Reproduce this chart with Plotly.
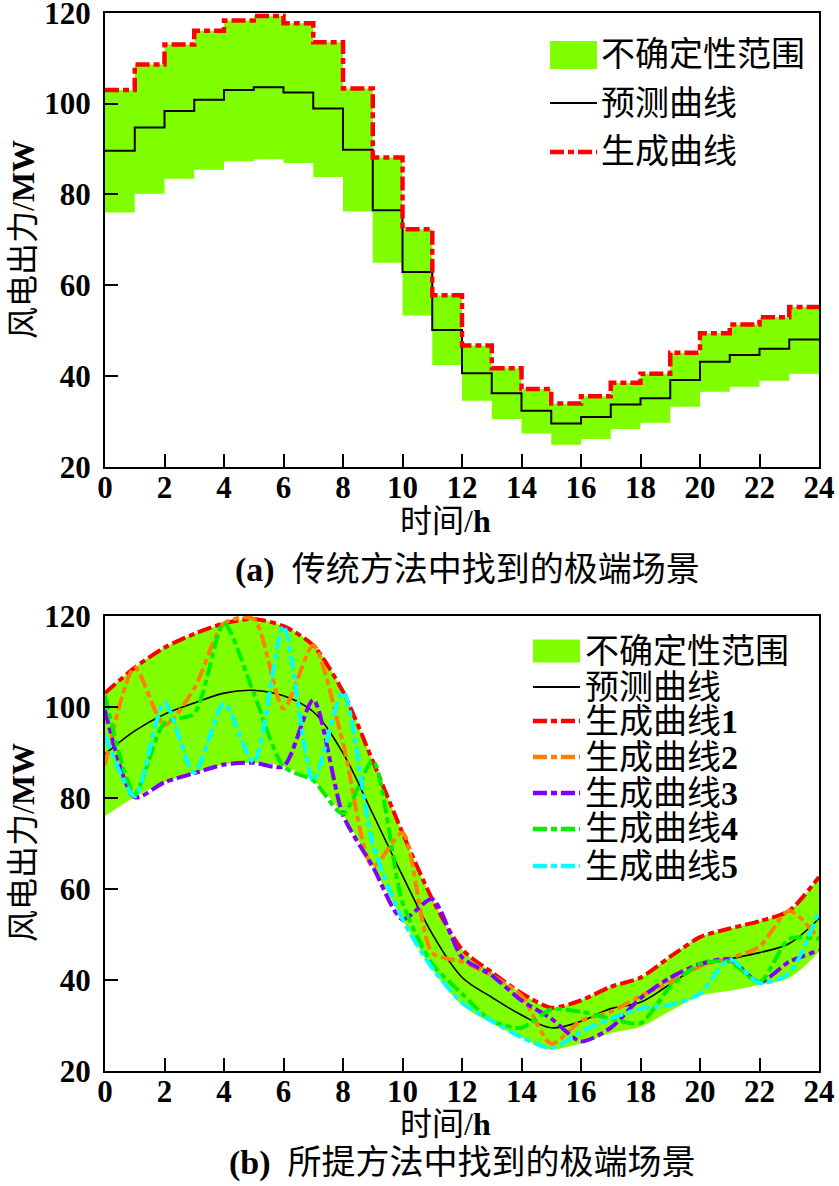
import plotly.graph_objects as go

W, H = 839, 1186

# ---------------- data ----------------
hours = list(range(0, 25))
step_hours = list(range(0, 24))

# (a) hourly step values (value for interval [h, h+1))
upper_a = [103.0, 108.6, 113.0, 116.0, 118.3, 119.3, 117.7, 113.5, 103.3, 88.1, 72.3, 57.75,
           46.7, 41.7, 37.1, 33.9, 35.5, 38.5, 40.5, 45.1, 49.4, 51.3, 52.9, 55.2]
forecast_a = [89.6, 94.7, 98.35, 100.8, 103.0, 103.6, 102.4, 98.9, 89.8, 76.5, 62.9, 50.1,
              40.6, 36.2, 32.3, 29.5, 30.95, 33.7, 35.1, 39.1, 43.1, 44.6, 46.0, 48.0]
lower_a = [76.0, 80.1, 83.4, 85.4, 87.3, 87.7, 86.9, 83.8, 76.2, 64.9, 53.3, 42.4,
           34.5, 30.5, 27.3, 24.85, 26.1, 28.3, 29.7, 33.2, 36.5, 37.6, 38.95, 40.5]

# (b) hourly points 0..24
upper_b = [103.0, 108.6, 113.0, 116.0, 118.3, 119.3, 117.7, 113.5, 103.3, 88.1, 72.3, 57.75,
           46.7, 41.7, 37.1, 33.9, 35.5, 38.5, 40.5, 45.1, 49.4, 51.3, 52.9, 55.2, 62.6]
forecast_b = [89.6, 94.7, 98.35, 100.8, 103.0, 103.6, 102.4, 98.9, 89.8, 76.5, 62.9, 50.1,
              40.6, 36.2, 32.3, 29.5, 30.95, 33.7, 35.1, 39.1, 43.1, 44.6, 46.0, 48.0, 53.5]
lower_b = [76.0, 80.1, 83.4, 85.4, 87.3, 87.7, 86.9, 83.8, 76.2, 64.9, 53.3, 42.4,
           34.5, 30.5, 27.3, 24.85, 26.1, 28.3, 29.7, 33.2, 36.5, 37.6, 38.95, 40.5, 46.2]
curve1 = upper_b
curve2 = [87.2, 108.6, 96.0, 104.0, 118.3, 119.3, 99.6, 113.5, 92.0, 64.9, 72.3, 46.0,
          44.0, 41.0, 36.5, 26.0, 31.0, 33.0, 36.5, 39.5, 43.0, 44.8, 47.3, 55.2, 49.0]
curve3 = [99.3, 80.1, 83.4, 85.4, 87.3, 87.7, 86.9, 101.5, 76.2, 64.9, 53.3, 57.75,
          45.0, 41.0, 35.5, 31.5, 26.5, 29.5, 36.0, 40.5, 43.5, 44.5, 39.5, 44.0, 46.5]
curve4 = [102.5, 81.0, 96.5, 98.5, 118.3, 103.0, 86.9, 83.8, 76.5, 88.1, 57.0, 43.5,
          37.0, 31.0, 29.5, 33.5, 33.0, 31.5, 30.5, 38.5, 43.5, 44.0, 39.5, 49.0, 49.0]
curve5 = [93.7, 80.3, 101.0, 85.5, 100.7, 87.8, 117.7, 83.8, 103.3, 70.0, 53.3, 42.6,
          35.0, 31.0, 27.4, 25.0, 28.6, 31.5, 33.7, 34.5, 37.0, 44.5, 39.3, 41.5, 55.3]

x_ticks = list(range(0, 25, 2))
y_ticks = [20, 40, 60, 80, 100, 120]

legend_a = ["不确定性范围", "预测曲线", "生成曲线"]
legend_b = ["不确定性范围", "预测曲线", "生成曲线1", "生成曲线2", "生成曲线3", "生成曲线4", "生成曲线5"]
curve_colors = ["#FF0000", "#FF8000", "#8000FF", "#00F000", "#00FFFF"]
band_color = "#7FFF00"
DASH = "14px,4px,6px,4px"

# ---------------- helpers ----------------
def px(x):
    return x / W

def py(y):
    return 1 - y / H

def step(vals):
    return step_hours + [24], vals + [vals[-1]]

fig = go.Figure()

# (a) traces
xs, ys = step(lower_a)
fig.add_trace(go.Scatter(x=xs, y=ys, mode="lines", line=dict(width=0, shape="hv"),
                         showlegend=False, xaxis="x", yaxis="y", hoverinfo="skip"))
xs, ys = step(upper_a)
fig.add_trace(go.Scatter(x=xs, y=ys, mode="lines", line=dict(width=0, shape="hv"),
                         fill="tonexty", fillcolor=band_color, showlegend=False,
                         xaxis="x", yaxis="y"))
xs, ys = step(forecast_a)
fig.add_trace(go.Scatter(x=xs, y=ys, mode="lines", line=dict(color="black", width=2, shape="hv"),
                         showlegend=False, xaxis="x", yaxis="y"))
xs, ys = step(upper_a)
fig.add_trace(go.Scatter(x=xs, y=ys, mode="lines",
                         line=dict(color="#FF0000", width=4.5, shape="hv", dash=DASH),
                         showlegend=False, xaxis="x", yaxis="y"))

# (b) traces
fig.add_trace(go.Scatter(x=hours, y=lower_b, mode="lines", line=dict(width=0, shape="spline"),
                         showlegend=False, xaxis="x2", yaxis="y2", hoverinfo="skip"))
fig.add_trace(go.Scatter(x=hours, y=upper_b, mode="lines", line=dict(width=0, shape="spline"),
                         fill="tonexty", fillcolor=band_color, showlegend=False,
                         xaxis="x2", yaxis="y2"))
fig.add_trace(go.Scatter(x=hours, y=forecast_b, mode="lines",
                         line=dict(color="black", width=1.6, shape="spline"),
                         showlegend=False, xaxis="x2", yaxis="y2"))
for vals, col in zip([curve1, curve2, curve3, curve4, curve5], curve_colors):
    fig.add_trace(go.Scatter(x=hours, y=vals, mode="lines",
                             line=dict(color=col, width=4, shape="spline", smoothing=0.7, dash=DASH),
                             showlegend=False, xaxis="x2", yaxis="y2"))

# ---------------- axes ----------------
tickfont = dict(family="Liberation Serif, Times New Roman, serif", size=31, color="black", weight="bold")
xdom = [px(105), px(819)]
common_x = dict(range=[0, 24], tickmode="array", tickvals=x_ticks, ticks="inside", ticklen=13,
                tickwidth=2, tickcolor="black", showline=True, linewidth=2, linecolor="black",
                mirror=True, showgrid=False, zeroline=False, tickfont=tickfont, domain=xdom,
                ticklabelstandoff=-8, automargin=False, ticklabeloverflow="allow")
common_y = dict(range=[20, 120], tickmode="array", tickvals=y_ticks, ticks="inside", ticklen=13,
                tickwidth=2, tickcolor="black", showline=True, linewidth=2, linecolor="black",
                mirror=True, showgrid=False, zeroline=False, tickfont=tickfont,
                ticklabelstandoff=6, automargin=False, ticklabeloverflow="allow")

fig.update_layout(
    template="none",
    width=W, height=H,
    margin=dict(l=0, r=0, t=0, b=0, pad=0),
    paper_bgcolor="white", plot_bgcolor="white",
    showlegend=False,
    xaxis=dict(**common_x, anchor="y"),
    yaxis=dict(**common_y, anchor="x", domain=[py(466.7), py(12.7)]),
    xaxis2=dict(**common_x, anchor="y2"),
    yaxis2=dict(**common_y, anchor="x2", domain=[py(1071), py(615.7)]),
)

# ---------------- text ----------------
CJK = "Liberation Serif, Noto Sans CJK SC, serif"
txtfont = dict(family=CJK, size=34, color="black")
ann = []
for yc in [240, 843]:
    ann.append(dict(x=px(23), y=py(yc), xref="paper", yref="paper", text="风电出力/<b>MW</b>",
                    textangle=-90, showarrow=False, font=dict(family=CJK, size=32, color="black"),
                    xanchor="center", yanchor="middle"))
for yc in [521, 1124]:
    ann.append(dict(x=px(445), y=py(yc), xref="paper", yref="paper", text="时间/<b>h</b>",
                    showarrow=False, font=dict(family=CJK, size=32, color="black"),
                    xanchor="center", yanchor="middle"))
ann.append(dict(x=px(467), y=py(570), xref="paper", yref="paper",
                text="<b>(a)</b>  传统方法中找到的极端场景", showarrow=False, font=txtfont,
                xanchor="center", yanchor="middle"))
ann.append(dict(x=px(462), y=py(1163), xref="paper", yref="paper",
                text="<b>(b)</b>  所提方法中找到的极端场景", showarrow=False, font=txtfont,
                xanchor="center", yanchor="middle"))

shapes = []

def legend(x0, x1, tx, rows, names, colors, box_h):
    # rows: y centers; first = band box, second = forecast, rest = curves
    shapes.append(dict(type="rect", xref="paper", yref="paper",
                       x0=px(x0), x1=px(x1), y0=py(rows[0] + box_h / 2), y1=py(rows[0] - box_h / 2),
                       fillcolor=band_color, line=dict(width=0)))
    shapes.append(dict(type="line", xref="paper", yref="paper",
                       x0=px(x0), x1=px(x1), y0=py(rows[1]), y1=py(rows[1]),
                       line=dict(color="black", width=2)))
    for yc, col in zip(rows[2:], colors):
        shapes.append(dict(type="line", xref="paper", yref="paper",
                           x0=px(x0), x1=px(x1), y0=py(yc), y1=py(yc),
                           line=dict(color=col, width=4.5, dash="14px,4px,6px,4px")))
    for yc, name in zip(rows, names):
        t = name
        if name[-1].isdigit():
            t = name[:-1] + "<b>" + name[-1] + "</b>"
        ann.append(dict(x=px(tx), y=py(yc), xref="paper", yref="paper", text=t, showarrow=False,
                        font=txtfont, xanchor="left", yanchor="middle"))

legend(550, 597, 599, [55, 103, 152], legend_a, ["#FF0000"], 28)
legend(533, 580, 583, [651, 687, 721, 757, 793, 829, 866], legend_b, curve_colors, 23)

fig.update_layout(annotations=ann, shapes=shapes)

fig.write_html("out.html", config={"displayModeBar": False},
               post_script="document.body.style.margin='0';document.body.style.padding='0';"
                           "document.body.style.overflow='hidden';")
